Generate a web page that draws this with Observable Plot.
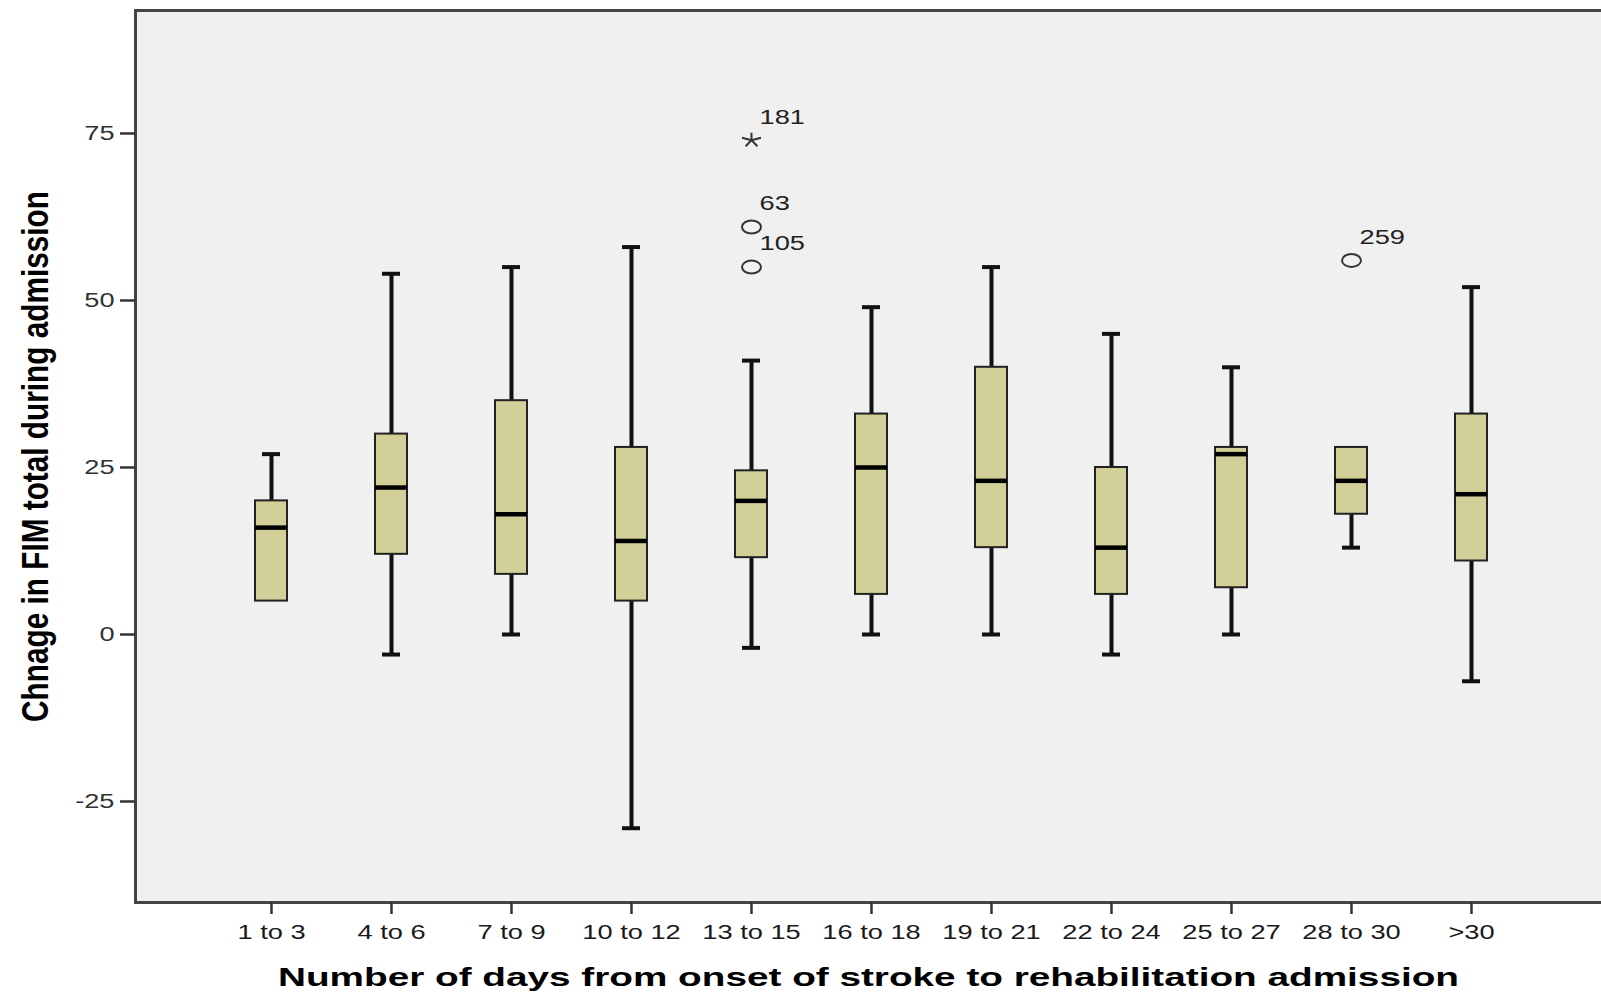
<!DOCTYPE html>
<html><head><meta charset="utf-8">
<script src="https://cdn.jsdelivr.net/npm/d3@7"></script>
<script src="https://cdn.jsdelivr.net/npm/@observablehq/plot@0.6"></script>
<style>body{margin:0;background:#fff;}</style>
</head><body><div id="chart"></div>
<script>
// ---- data ----
const categories = ["1 to 3","4 to 6","7 to 9","10 to 12","13 to 15","16 to 18","19 to 21","22 to 24","25 to 27","28 to 30",">30"];
const whiskerLow  = [5, -3, 0, -29, -2, 0, 0, -3, 0, 13, -7];
const q1          = [5, 12, 9, 5, 11.5, 6, 13, 6, 7, 18, 11];
const median      = [16, 22, 18, 14, 20, 25, 23, 13, 27, 23, 21];
const q3          = [20, 30, 35, 28, 24.5, 33, 40, 25, 28, 28, 33];
const whiskerHigh = [27, 54, 55, 58, 41, 49, 55, 45, 40, 28, 52];

const outlierGroup = ["13 to 15","13 to 15","13 to 15","28 to 30"];
const outlierValue = [74, 61, 55, 56];
const outlierId    = ["181","63","105","259"];
const outlierKind  = ["extreme","outlier","outlier","outlier"];

const yTicks = [-25, 0, 25, 50, 75];
const xTitle = "Number of days from onset of stroke to rehabilitation admission";
const yTitle = "Chnage in FIM total during admission";

// ---- tables built from the arrays ----
const boxes = categories.map((c, i) => ({cat: c, lo: whiskerLow[i], q1: q1[i], med: median[i], q3: q3[i], hi: whiskerHigh[i]}));
const outliers = outlierGroup.map((c, i) => ({cat: c, v: outlierValue[i], id: outlierId[i], kind: outlierKind[i]}));

// custom symbols (horizontally stretched, like the reference)
const ellipseSym = {draw(ctx) {
  const rx = 9.5, ry = 6.5, k = 0.5523;
  ctx.moveTo(rx, 0);
  ctx.bezierCurveTo(rx, ry * k, rx * k, ry, 0, ry);
  ctx.bezierCurveTo(-rx * k, ry, -rx, ry * k, -rx, 0);
  ctx.bezierCurveTo(-rx, -ry * k, -rx * k, -ry, 0, -ry);
  ctx.bezierCurveTo(rx * k, -ry, rx, -ry * k, rx, 0);
  ctx.closePath();
}};
const starSym = {draw(ctx) {
  const rx = 10, ry = 7.5;
  for (let k = 0; k < 5; ++k) {
    const a = -Math.PI / 2 + k * 2 * Math.PI / 5;
    ctx.moveTo(0, 0);
    ctx.lineTo(rx * Math.cos(a), ry * Math.sin(a));
  }
}};

const ink = "#111";
const chart = Plot.plot({
  width: 1601,
  height: 995,
  marginTop: 10,
  marginBottom: 93,
  marginLeft: 135,
  marginRight: 0,
  style: {fontFamily: "'Liberation Sans', Arial, sans-serif", fontSize: "20px", color: "#333", background: "#fff"},
  x: {type: "band", domain: categories, range: [135, 1607], paddingInner: 0.735, paddingOuter: 0.968, label: null},
  y: {domain: [-40.12, 93.41], label: null},
  marks: [
    Plot.frame({fill: "#f0f0f0", stroke: "none"}),
    Plot.frame({anchor: "top", stroke: "#444", strokeWidth: 3}),
    Plot.frame({anchor: "left", stroke: "#444", strokeWidth: 3}),
    Plot.frame({anchor: "bottom", stroke: "#444", strokeWidth: 3}),
    Plot.axisY(yTicks, {tickSize: 15, tickPadding: 6, fontSize: 20, stroke: "#333", strokeWidth: 2.5, fill: "#333", label: null, tickFormat: d => String(d)}),
    Plot.axisX({tickSize: 12, tickPadding: 10, fontSize: 20, stroke: "#333", strokeWidth: 2.5, fill: "#1a1a1a", label: null}),
    Plot.ruleX(boxes, {x: "cat", y1: "lo", y2: "hi", stroke: ink, strokeWidth: 4}),
    Plot.tickY(boxes.filter(d => d.lo < d.q1), {x: "cat", y: "lo", stroke: ink, strokeWidth: 4, insetLeft: 7, insetRight: 7}),
    Plot.tickY(boxes.filter(d => d.hi > d.q3), {x: "cat", y: "hi", stroke: ink, strokeWidth: 4, insetLeft: 7, insetRight: 7}),
    Plot.barY(boxes, {x: "cat", y1: "q1", y2: "q3", fill: "#d3cf98", stroke: "#222", strokeWidth: 2}),
    Plot.tickY(boxes, {x: "cat", y: "med", stroke: "#000", strokeWidth: 4.5}),
    Plot.dot(outliers.filter(d => d.kind === "outlier"), {x: "cat", y: "v", symbol: ellipseSym, stroke: "#333", strokeWidth: 2, fill: "none"}),
    Plot.dot(outliers.filter(d => d.kind === "extreme"), {x: "cat", y: "v", symbol: starSym, stroke: "#333", strokeWidth: 2, fill: "none"}),
    Plot.text(outliers, {x: "cat", y: "v", text: "id", dx: 8, dy: -23, textAnchor: "start", fill: "#222", fontSize: 20}),
    Plot.text([xTitle], {frameAnchor: "bottom", text: d => d, dy: 83, textAnchor: "middle", lineAnchor: "bottom", fontSize: 25, fontWeight: "bold", fill: "#000"}),
    Plot.text([yTitle], {frameAnchor: "left", text: d => d, rotate: -90, dx: -88, textAnchor: "middle", lineAnchor: "bottom", fontSize: 37, fontWeight: "bold", fill: "#000"})
  ]
});
document.getElementById("chart").appendChild(chart);

// emulate the reference's horizontal stretch of the texts
const STRETCH = 1.36;
chart.querySelectorAll("text").forEach(t => {
  const s = t.textContent;
  const L = s === xTitle ? 1181 : s === yTitle ? 531 : t.getComputedTextLength() * STRETCH;
  t.setAttribute("textLength", L);
  t.setAttribute("lengthAdjust", "spacingAndGlyphs");
});
</script>
</body></html>
